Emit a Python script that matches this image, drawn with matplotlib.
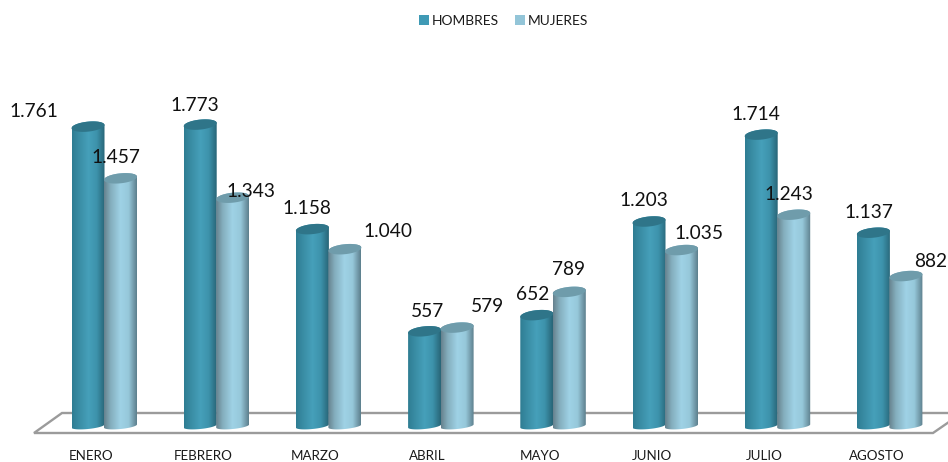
import numpy as np
import matplotlib
matplotlib.use("Agg")
import matplotlib.pyplot as plt
from matplotlib.patches import Patch, Polygon
from matplotlib.colors import LinearSegmentedColormap
from matplotlib.transforms import Affine2D

plt.rcParams['font.family'] = ['Lato', 'DejaVu Sans']

months = ["ENERO", "FEBRERO", "MARZO", "ABRIL", "MAYO", "JUNIO", "JULIO", "AGOSTO"]
hombres = [1761, 1773, 1158, 557, 652, 1203, 1714, 1137]
mujeres = [1457, 1343, 1040, 579, 789, 1035, 1243, 882]
series_names = ["HOMBRES", "MUJERES"]

# label offsets in pixels from each cylinder's top
off_h = [(-54.5, 15.6), (-5.5, 19.4), (-5.5, 20.5), (2.5, 20), (-4.5, 21), (-5.5, 21), (-5.5, 20.6), (-4.5, 20)]
off_m = [(-5, 21), (18.5, 6.5), (43, 18), (30, 20.6), (-0.5, 22), (17, 17), (-5, 20.5), (25, 15)]

W, H = 948, 462
fig = plt.figure(figsize=(W / 100, H / 100), dpi=100, facecolor="white")

AX_BOTTOM = 440          # pixel row of the axes' lower edge
BASE = 426               # pixel row of value 0
PPU = 0.170              # pixels per value unit
XPPC = 112.2             # pixels per category
X0 = 91                  # pixel column of the first category
ax = fig.add_axes([0, (H - AX_BOTTOM) / H, 1, AX_BOTTOM / H])
ax.set_xlim((0 - X0) / XPPC, (W - X0) / XPPC)
ax.set_ylim((BASE - AX_BOTTOM) / PPU, BASE / PPU)
for s in ax.spines.values():
    s.set_visible(False)
ax.set_yticks([])
ax.set_xticks(range(len(months)), months)
ax.tick_params(axis="x", length=0, pad=7, labelsize=9.6, labelcolor="#1a1a1a")

# floor, in figure pixels
px = Affine2D().scale(1, -1).translate(0, H)
ax.add_patch(Polygon([(34, 433), (62, 413), (962, 413), (933, 433)], closed=True,
                     facecolor="white", edgecolor="#9b9b9b", linewidth=1.7,
                     transform=px, zorder=1, clip_on=False))

cm_h = LinearSegmentedColormap.from_list("h", [(0, "#2e7c92"), (0.12, "#35869d"), (0.5, "#46a0ba"),
                                               (0.75, "#3d93ac"), (1, "#286577")])
cm_m = LinearSegmentedColormap.from_list("m", [(0, "#66818d"), (0.2, "#84aebd"), (0.5, "#9fd2e6"),
                                               (0.75, "#96c8da"), (1, "#5d7f8d")])
grad = np.linspace(0, 1, 128).reshape(1, -1)

RX, RY, TILT, RY_B = 16.5, 5.0, 1.6, 3.0


def cylinder(cx, value, cmap, top_color, z):
    """Cylinder at a category position, height from the value scale."""
    t = np.linspace(0, 2 * np.pi, 80)
    rx = RX / XPPC
    ry = RY / PPU
    tilt = TILT / PPU
    ryb = RY_B / PPU
    tb = np.linspace(np.pi, 2 * np.pi, 40)
    tt = np.linspace(0, np.pi, 40)
    xs = np.r_[cx + rx * np.cos(tb), cx + rx * np.cos(tt)]
    ys = np.r_[ryb * np.sin(tb) + tilt * np.cos(tb), value + ry * np.sin(tt) + tilt * np.cos(tt)]
    body = Polygon(np.c_[xs, ys], closed=True, facecolor="none", edgecolor="none", zorder=z)
    ax.add_patch(body)
    im = ax.imshow(grad, cmap=cmap, aspect="auto", interpolation="bilinear",
                   extent=(cx - rx, cx + rx, -ryb - tilt, value + ry + tilt), zorder=z)
    im.set_clip_path(body)
    ax.add_patch(Polygon(np.c_[cx + rx * np.cos(t), value + ry * np.sin(t) + tilt * np.cos(t)],
                         closed=True, facecolor=top_color, edgecolor="none", zorder=z + 0.1))


def fmt(v):
    return f"{v:,}".replace(",", ".")


DX_H = -3 / XPPC
DX_M = 29.5 / XPPC
for i, (vh, vm) in enumerate(zip(hombres, mujeres)):
    cylinder(i + DX_H, vh, cm_h, "#2f7589", 2 + i)
    cylinder(i + DX_M, vm, cm_m, "#6f9cab", 2.5 + i)

for i, (vh, vm) in enumerate(zip(hombres, mujeres)):
    for xo, v, o in ((DX_H, vh, off_h[i]), (DX_M, vm, off_m[i])):
        ax.annotate(fmt(v), (i + xo, v), xytext=o, textcoords="offset pixels",
                    ha="center", va="center", fontsize=13.8, color="#111111", zorder=30,
                    annotation_clip=False)

ax.set_xlim((0 - X0) / XPPC, (W - X0) / XPPC)
ax.set_ylim((BASE - AX_BOTTOM) / PPU, BASE / PPU)

handles = [Patch(facecolor="#3f9ab5", label=series_names[0]),
           Patch(facecolor="#93c5d8", label=series_names[1])]
fig.legend(handles=handles, loc="center", bbox_to_anchor=(503.5 / W, 1 - 21 / H), ncol=2,
           frameon=False, fontsize=9.9, handlelength=0.72, handleheight=0.72,
           handletextpad=0.2, columnspacing=1.2, labelcolor="#1a1a1a")

fig.savefig("out.png", dpi=100, facecolor="white")
